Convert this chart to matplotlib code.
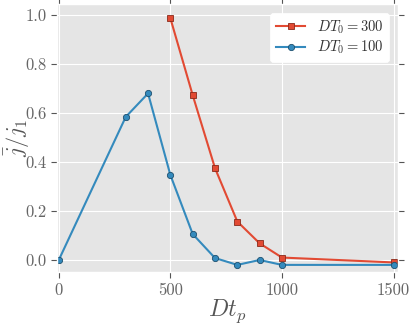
import matplotlib
matplotlib.use("Agg")
import matplotlib.pyplot as plt

plt.style.use("ggplot")
plt.rcParams["mathtext.fontset"] = "cm"
plt.rcParams["font.family"] = "serif"
plt.rcParams["font.serif"] = ["cmr10"]
plt.rcParams["axes.formatter.use_mathtext"] = True

x300 = [500, 600, 700, 800, 900, 1000, 1500]
y300 = [0.987, 0.673, 0.375, 0.157, 0.068, 0.010, -0.010]
x100 = [0, 300, 400, 500, 600, 700, 800, 900, 1000, 1500]
y100 = [0.0, 0.584, 0.680, 0.347, 0.106, 0.008, -0.020, 0.0, -0.020, -0.020]
xticks = [0, 500, 1000, 1500]
yticks = [0.0, 0.2, 0.4, 0.6, 0.8, 1.0]

fig = plt.figure(figsize=(4.15, 3.24), dpi=100)
ax = fig.add_axes([57/415, 52/324, 341/415, 268/324])
ax.plot(x300, y300, "-s", color="#E24A33", ms=5, mec="#8a2a1a", mew=0.6,
        lw=1.5, label=r"$DT_0 = 300$")
ax.plot(x100, y100, "-o", color="#348ABD", ms=4.5, mec="#1d4f6e", mew=0.6,
        lw=1.5, label=r"$DT_0 = 100$")
ax.set_xlim(-8, 1520)
ax.set_ylim(-0.049, 1.045)
ax.set_xticks(xticks)
ax.set_yticks(yticks)
ax.set_xticklabels([str(v) for v in xticks])
ax.set_yticklabels(["%.1f" % v for v in yticks])
ax.tick_params(axis="both", which="both", direction="out", top=True, right=True,
               labelsize=12, colors="#555555", labelcolor="#666666", length=4)
ax.set_xlabel(r"$Dt_p$", fontsize=17, color="#555555", labelpad=0)
ax.set_ylabel(r"$\bar{j}/j_1$", fontsize=16, color="#555555", va="top")
ax.yaxis.set_label_coords(-0.16, 0.5)
leg = ax.legend(loc="upper right", fontsize=10.5, facecolor="white", framealpha=1,
                edgecolor="white", handlelength=2.0, borderpad=0.4,
                labelspacing=0.2, handletextpad=0.8, borderaxespad=0.6)
for t in leg.get_texts():
    t.set_color("#333333")
fig.savefig("out.png", dpi=100)
